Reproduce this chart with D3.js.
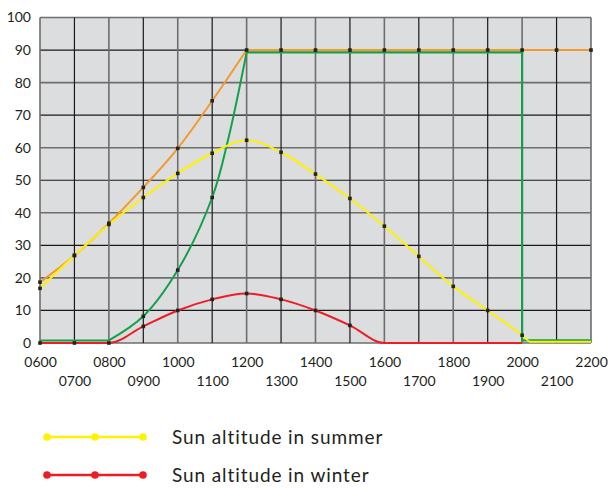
<!DOCTYPE html>
<html>
<head>
<meta charset="utf-8">
<script src="https://cdn.jsdelivr.net/npm/d3@7"></script>
<style>
  body { margin: 0; background: #fff; }
  text { font-family: Lato, 'Open Sans', sans-serif; fill: #231f20; }
</style>
</head>
<body>
<div id="chart"></div>
<script>
// hours of the day (0600 .. 2200)
const hours = [6, 7, 8, 9, 10, 11, 12, 13, 14, 15, 16, 17, 18, 19, 20, 21, 22];
const yTicks = [0, 10, 20, 30, 40, 50, 60, 70, 80, 90, 100];

// orange line, reaches 90 at noon and stays there
const orangeVals = [18.7, 26.9, 36.8, 47.8, 59.8, 74.4, 90, 90, 90, 90, 90, 90, 90, 90, 90, 90, 90];
// sun altitude in summer
const summerHours = [6, 7, 8, 9, 10, 11, 12, 13, 14, 15, 16, 17, 18, 19, 20, 20.24, 22];
const summerVals = [16.8, 26.9, 36.4, 44.7, 52.1, 58.3, 62.3, 58.6, 51.9, 44.4, 35.9, 26.6, 17.4, 10, 2.4, 0.4, 0.4];
// sun altitude in winter
const winterHours = [6, 7, 8, 9, 10, 11, 12, 13, 14, 15, 16, 20];
const winterVals = [0, 0, 0, 5.1, 10, 13.4, 15.2, 13.4, 10, 5.4, 0, 0];
// green: rising part, then flat plateau and the drop at 2000
const greenRiseHours = [6, 7, 8, 9, 10, 11, 11.46, 12];
const greenRiseVals = [0.8, 0.8, 0.8, 8.2, 22.4, 44.7, 62.4, 89.3];
const greenFlatHours = [12, 20, 20, 22];
const greenFlatVals = [89.3, 89.3, 0.8, 0.8];

const legendItems = ['Sun altitude in summer', 'Sun altitude in winter'];
const legendColors = ['#fff200', '#ee1c25'];

const W = 608, H = 488;
const margin = { top: 17.5, right: 17, bottom: 145, left: 40 };
const width = W - margin.left - margin.right,
  height = H - margin.top - margin.bottom;

const svg = d3.select('#chart').append('svg')
  .attr('width', W).attr('height', H);
const g = svg.append('g')
  .attr('transform', `translate(${margin.left},${margin.top})`);

const x = d3.scaleLinear().domain([6, 22]).range([0, width]);
const y = d3.scaleLinear().domain([0, 100]).range([height, 0]);

g.append('rect')
  .attr('width', width).attr('height', height)
  .attr('fill', '#dcdddf');

// grid lines: even steps grey and thicker, odd steps black
g.selectAll('.hgrid').data(yTicks).join('line')
  .attr('x1', 0).attr('x2', width)
  .attr('y1', (d) => y(d)).attr('y2', (d) => y(d))
  .attr('stroke', (d) => (d / 10) % 2 ? '#1a1a1a' : '#6e6e6e')
  .attr('stroke-width', (d) => (d / 10) % 2 ? 1.2 : 1.6);

g.selectAll('.vgrid').data(hours).join('line')
  .attr('y1', 0).attr('y2', height)
  .attr('x1', (d) => x(d)).attr('x2', (d) => x(d))
  .attr('stroke', (d) => d % 2 ? '#1a1a1a' : '#6e6e6e')
  .attr('stroke-width', (d) => d % 2 ? 1.2 : 1.6);

// axes (labels only)
const fmt = (d) => String(d * 100).padStart(4, '0');
const xAxis = g.append('g')
  .attr('transform', `translate(0,${height})`)
  .call(d3.axisBottom(x).tickValues(hours).tickFormat(fmt).tickSize(0));
xAxis.select('.domain').remove();
xAxis.selectAll('text')
  .attr('font-size', 14)
  .attr('y', (d) => d % 2 ? 33 : 14)
  .attr('dy', '0.71em');

const yAxis = g.append('g')
  .call(d3.axisLeft(y).tickValues(yTicks).tickSize(0));
yAxis.select('.domain').remove();
yAxis.selectAll('text')
  .attr('font-size', 14)
  .attr('x', -9);

// lines
const straight = d3.line().x((d) => x(d[0])).y((d) => y(d[1]));
const smooth = d3.line().curve(d3.curveMonotoneX)
  .x((d) => x(d[0])).y((d) => y(d[1]));
const bendy = d3.line().curve(d3.curveCatmullRom.alpha(0.5))
  .x((d) => x(d[0])).y((d) => y(d[1]));

function pairs(xs, vs) {
  return xs.map((h, i) => [h, vs[i]]);
}

g.append('path').datum(pairs(hours.slice(0, 7), orangeVals.slice(0, 7)))
  .attr('fill', 'none').attr('stroke', '#f39a2b').attr('stroke-width', 2)
  .attr('d', smooth);
g.append('path').datum(pairs(hours.slice(6), orangeVals.slice(6)))
  .attr('fill', 'none').attr('stroke', '#f39a2b').attr('stroke-width', 2)
  .attr('d', straight);

g.append('path').datum(pairs(winterHours, winterVals))
  .attr('fill', 'none').attr('stroke', '#ee1c25').attr('stroke-width', 2)
  .attr('d', smooth);

g.append('path').datum(pairs(greenRiseHours.slice(0, 3), greenRiseVals.slice(0, 3)))
  .attr('fill', 'none').attr('stroke', '#12a14a').attr('stroke-width', 2)
  .attr('d', straight);
g.append('path').datum(pairs(greenRiseHours.slice(2), greenRiseVals.slice(2)))
  .attr('fill', 'none').attr('stroke', '#12a14a').attr('stroke-width', 2)
  .attr('d', bendy);
g.append('path').datum(pairs(greenFlatHours, greenFlatVals))
  .attr('fill', 'none').attr('stroke', '#12a14a').attr('stroke-width', 2.2)
  .attr('d', straight);

g.append('path').datum(pairs(summerHours, summerVals))
  .attr('fill', 'none').attr('stroke', '#fff200').attr('stroke-width', 2)
  .attr('d', smooth);

// black point markers
const markers = []
  .concat(pairs(hours, orangeVals))
  .concat(pairs(summerHours.slice(0, 15), summerVals.slice(0, 15)))
  .concat(pairs(winterHours.slice(0, 10), winterVals.slice(0, 10)))
  .concat(pairs(greenRiseHours.slice(3, 6), greenRiseVals.slice(3, 6)));
g.selectAll('.mk').data(markers).join('rect')
  .attr('x', (d) => x(d[0]) - 1.8).attr('y', (d) => y(d[1]) - 1.8)
  .attr('width', 3.6).attr('height', 3.6)
  .attr('fill', '#222');

// legend
const legend = svg.append('g').attr('transform', 'translate(47,437)');
legendItems.forEach((label, i) => {
  const row = legend.append('g').attr('transform', `translate(0,${i * 38})`);
  row.append('line')
    .attr('x1', 0).attr('x2', 96)
    .attr('stroke', legendColors[i]).attr('stroke-width', 2.5);
  row.selectAll('circle').data([0, 48, 96]).join('circle')
    .attr('cx', (d) => d).attr('r', 3.8)
    .attr('fill', legendColors[i]);
  row.append('text')
    .attr('x', 125).attr('dy', '0.36em')
    .attr('font-size', 19)
    .attr('letter-spacing', 0.9)
    .text(label);
});
</script>
</body>
</html>
